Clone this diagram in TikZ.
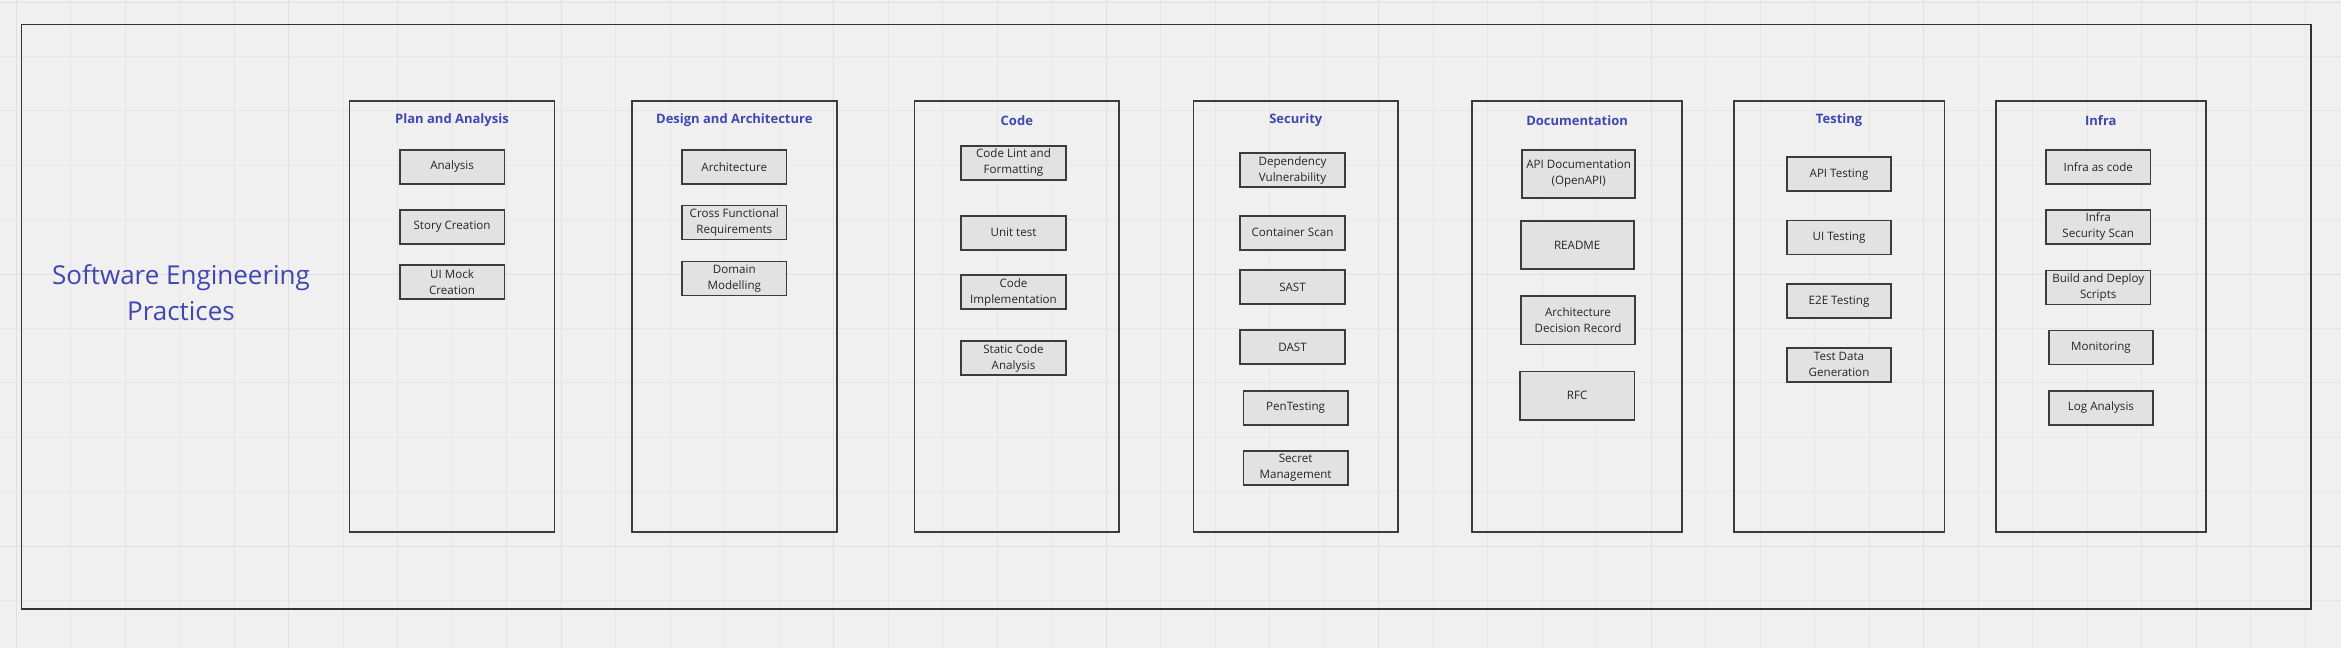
\documentclass[tikz,border=0pt]{standalone}
\usepackage{fontspec}
\setmainfont{Open Sans}
\definecolor{bgc}{HTML}{F0F0F0}
\definecolor{gridminor}{HTML}{E7E7E7}
\definecolor{gridmajor}{HTML}{DFDFDF}
\definecolor{titleblue}{HTML}{4047B0}
\definecolor{boxfill}{HTML}{E2E2E2}
\definecolor{boxline}{HTML}{3C3C3C}
\definecolor{frameline}{HTML}{333333}
\tikzset{
  outerframe/.style={draw=frameline, line width=1.8pt},
  column/.style={draw=boxline, line width=1.8pt},
  coltitle/.style={text=titleblue, font=\fontsize{13}{16}\selectfont\bfseries, inner sep=0pt},
  item/.style={draw=boxline, fill=boxfill, line width=1.7pt, inner sep=0pt,
    minimum width=104.5pt, minimum height=34pt, align=center,
    font=\fontsize{11.6}{16}\selectfont, text=black!85},
  docitem/.style={item, minimum width=113pt, minimum height=48.6pt},
  maintitle/.style={text=titleblue, font=\fontsize{26}{36}\selectfont, align=center, inner sep=0pt}
}
\begin{document}
\begin{tikzpicture}[x=1pt,y=-1pt]
\useasboundingbox (0,0) rectangle (2341,648);
\fill[bgc] (0,0) rectangle (2341,648);
% grid
\foreach \k in {0,...,42}{
  \pgfmathsetmacro{\gx}{16.1+54.5*\k}
  \pgfmathtruncatemacro{\m}{mod(\k,5)}
  \ifnum\m=0
    \draw[gridmajor, line width=1.2pt] (\gx,0) -- (\gx,648);
  \else
    \draw[gridminor, line width=1pt] (\gx,0) -- (\gx,648);
  \fi
}
\foreach \k in {0,...,11}{
  \pgfmathsetmacro{\gy}{2.1+54.4*\k}
  \pgfmathtruncatemacro{\m}{mod(\k,5)}
  \ifnum\m=0
    \draw[gridmajor, line width=1.2pt] (0,\gy) -- (2341,\gy);
  \else
    \draw[gridminor, line width=1pt] (0,\gy) -- (2341,\gy);
  \fi
}
% outer frame
\draw[outerframe] (21.4,24.5) rectangle (2311,609.3);
\node[maintitle] (title) at (181,293) {Software Engineering\\Practices};

% columns
\draw[column] (349.4,101) rectangle (554.5,532.2);
\draw[column] (631.8,101) rectangle (836.9,532.2);
\draw[column] (914.4,101) rectangle (1119.2,532.2);
\draw[column] (1193.4,101) rectangle (1398.2,532.2);
\draw[column] (1472.1,101) rectangle (1682.2,532.2);
\draw[column] (1733.9,101) rectangle (1944.4,532.2);
\draw[column] (1995.7,101) rectangle (2206,532.2);

\node[coltitle] (tplan) at (452,120.3) {Plan and Analysis};
\node[coltitle] (tdes) at (734.3,120.3) {Design and Architecture};
\node[coltitle] (tcode) at (1016.8,120.3) {Code};
\node[coltitle] (tsec) at (1295.8,120.3) {Security};
\node[coltitle] (tdoc) at (1577.1,120.3) {Documentation};
\node[coltitle] (ttest) at (1839.1,120.3) {Testing};
\node[coltitle] (tinfra) at (2100.8,120.3) {Infra};

% Plan and Analysis
\node[item] (p1) at (452.1,166.7) {Analysis};
\node[item] (p2) at (452.1,226.9) {Story Creation};
\node[item] (p3) at (452.1,282.3) {UI Mock\\Creation};
% Design
\node[item] (d1) at (734.3,166.7) {Architecture};
\node[item] (d2) at (734.3,222.5) {Cross Functional\\Requirements};
\node[item] (d3) at (734.3,278.5) {Domain\\Modelling};
% Code
\node[item] (c1) at (1013.5,162.7) {Code Lint and\\Formatting};
\node[item] (c2) at (1013.5,232.7) {Unit test};
\node[item] (c3) at (1013.5,292) {Code\\Implementation};
\node[item] (c4) at (1013.5,358) {Static Code\\Analysis};
% Security
\node[item] (s1) at (1292.5,170.3) {Dependency\\Vulnerability};
\node[item] (s2) at (1292.5,232.7) {Container Scan};
\node[item] (s3) at (1292.5,287.3) {SAST};
\node[item] (s4) at (1292.5,347.3) {DAST};
\node[item] (s5) at (1295.6,407.7) {PenTesting};
\node[item] (s6) at (1295.6,467.8) {Secret\\Management};
% Documentation
\node[docitem] (o1) at (1578.7,174) {API Documentation\\(OpenAPI)};
\node[docitem] (o2) at (1577.2,245) {README};
\node[docitem, minimum width=114.4pt] (o3) at (1578,320.2) {Architecture\\Decision Record};
\node[docitem, minimum width=114.4pt] (o4) at (1577.2,395.7) {RFC};
% Testing
\node[item] (e1) at (1839,174.3) {API Testing};
\node[item] (e2) at (1839,237.5) {UI Testing};
\node[item] (e3) at (1839,301.3) {E2E Testing};
\node[item] (e4) at (1839,364.7) {Test Data\\Generation};
% Infra
\node[item] (i1) at (2098.2,166.8) {Infra as code};
\node[item] (i2) at (2098.2,226.9) {Infra\\Security Scan};
\node[item] (i3) at (2098.2,287.6) {Build and Deploy\\Scripts};
\node[item] (i4) at (2100.9,347.6) {Monitoring};
\node[item] (i5) at (2100.9,407.9) {Log Analysis};
\end{tikzpicture}
\end{document}
